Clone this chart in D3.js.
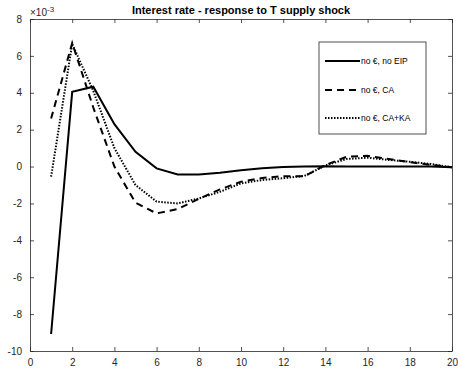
<!DOCTYPE html>
<html>
<head>
<meta charset="utf-8">
<script src="https://cdn.jsdelivr.net/npm/d3@7"></script>
<style>
  body { margin: 0; background: #fff; }
  text { font-family: "Liberation Sans", Arial, sans-serif; }
</style>
</head>
<body>
<div id="canvas"></div>
<script>
// periods and responses (x 10^-3)
const periods = d3.range(1, 21)
const noEIP = [-9.08, 4.05, 4.33, 2.3, 0.8, -0.1, -0.43, -0.43, -0.33, -0.2, -0.09, -0.02, 0.0, 0.02, 0.0, 0.0, 0.0, 0.0, 0.0, -0.04]
const ca = [2.6, 6.7, 3.2, 0.0, -1.96, -2.54, -2.3, -1.75, -1.24, -0.82, -0.62, -0.52, -0.53, 0.08, 0.53, 0.58, 0.41, 0.24, 0.09, -0.04]
const caka = [-0.55, 6.65, 4.1, 1.0, -1.0, -1.9, -2.0, -1.73, -1.37, -0.91, -0.73, -0.63, -0.51, 0.06, 0.41, 0.48, 0.36, 0.26, 0.14, -0.04]
const xTicks = d3.range(0, 21, 2)
const yTicks = d3.range(-10, 9, 2)
const seriesNames = ["no €, no EIP", "no €, CA", "no €, CA+KA"]

const W = 458, H = 373
const svg = d3.select("#canvas").append("svg").attr("width", W).attr("height", H)

const x = d3.scaleLinear().domain([0, 20]).range([30, 452])
const y = d3.scaleLinear().domain([-10, 8]).range([351, 19])

const axisColor = "#262626"
const fmt = d => String(d)

// title
svg.append("text").attr("x", 241).attr("y", 14).attr("text-anchor", "middle")
  .attr("font-size", 11).attr("font-weight", "bold").attr("fill", "#000")
  .text("Interest rate - response to T supply shock")

// axes with inward ticks on all four sides
const tl = 4
const g = svg.append("g")
g.append("g").attr("transform", "translate(0,351)")
  .call(d3.axisBottom(x).tickValues(xTicks).tickSizeInner(-tl).tickSizeOuter(0).tickPadding(8).tickFormat(fmt))
g.append("g").attr("transform", "translate(0,19)")
  .call(d3.axisTop(x).tickValues(xTicks).tickSizeInner(-tl).tickSizeOuter(0).tickFormat(""))
g.append("g").attr("transform", "translate(30,0)")
  .call(d3.axisLeft(y).tickValues(yTicks).tickSizeInner(-tl).tickSizeOuter(0).tickPadding(8).tickFormat(fmt))
g.append("g").attr("transform", "translate(452,0)")
  .call(d3.axisRight(y).tickValues(yTicks).tickSizeInner(-tl).tickSizeOuter(0).tickFormat(""))
g.selectAll(".domain").attr("stroke", axisColor).attr("stroke-width", 0.8)
g.selectAll(".tick line").attr("stroke", axisColor).attr("stroke-width", 0.8)
g.selectAll(".tick text").attr("fill", axisColor).attr("font-size", 10)
  .attr("font-family", "Liberation Sans, Arial, sans-serif")

// exponent label
const ex = svg.append("text").attr("x", 30).attr("y", 16).attr("font-size", 10).attr("fill", axisColor)
ex.append("tspan").text("\u00d710")
ex.append("tspan").attr("dy", -4).attr("font-size", 8).text("-3")

// lines
const line = d3.line().x((d, i) => x(periods[i])).y(d => y(d))
const styles = [
  { data: noEIP, dash: null },
  { data: ca, dash: "7,5" },
  { data: caka, dash: "1.5,1.5" }
]
svg.selectAll("path.series").data(styles).enter().append("path")
  .attr("class", "series")
  .attr("d", d => line(d.data))
  .attr("fill", "none")
  .attr("stroke", "#000")
  .attr("stroke-width", 2)
  .attr("stroke-dasharray", d => d.dash)

// legend
const lg = svg.append("g")
lg.append("rect").attr("x", 319).attr("y", 42).attr("width", 107).attr("height", 92)
  .attr("fill", "#fff").attr("stroke", axisColor).attr("stroke-width", 0.8)
const rowsY = [61, 90, 118]
styles.forEach((s, i) => {
  lg.append("line").attr("x1", 325).attr("x2", 360).attr("y1", rowsY[i]).attr("y2", rowsY[i])
    .attr("stroke", "#000").attr("stroke-width", 2).attr("stroke-dasharray", s.dash)
  lg.append("text").attr("x", 361).attr("y", rowsY[i] + 3).attr("font-size", 8.5).attr("fill", "#000")
    .text(seriesNames[i])
})
</script>
</body>
</html>
